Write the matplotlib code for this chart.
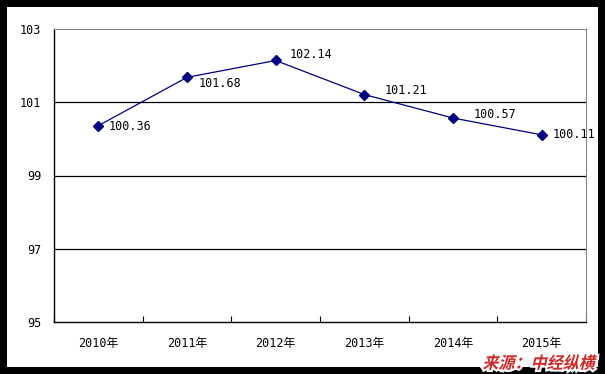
import matplotlib.pyplot as plt
from matplotlib.patches import Rectangle, PathPatch
from matplotlib.textpath import TextPath
from matplotlib.font_manager import FontProperties
from matplotlib.transforms import Affine2D, IdentityTransform
import numpy as np

plt.rcParams['font.family'] = ['DejaVu Sans Mono', 'Noto Sans CJK SC']

years = ['2010年', '2011年', '2012年', '2013年', '2014年', '2015年']
values = [100.36, 101.68, 102.14, 101.21, 100.57, 100.11]
# label offsets from the marker, in pixels
label_offsets = [(10, -1), (12, -6), (14, 6), (20, 4), (21, 3), (11, 0)]
source = '来源：中经纵横'

fig = plt.figure(figsize=(6.05, 3.74), dpi=100, facecolor='black')
fig.patches.append(Rectangle((7 / 605, 7 / 374), 591 / 605, 360 / 374,
                             transform=fig.transFigure, facecolor='white',
                             edgecolor='none', zorder=-5))

ax = fig.add_axes([54 / 605, 52 / 374, 532 / 605, 293 / 374])
ax.set_zorder(1)
x = np.arange(len(years))
ax.plot(x, values, color='#000080', lw=0.9, marker='D', ms=5.2)
for xi, v, off in zip(x, values, label_offsets):
    ax.annotate(f'{v:.2f}', (xi, v), xytext=off, textcoords='offset pixels',
                fontsize=8.5, va='center', ha='left', annotation_clip=False)

ax.set_xlim(-0.5, len(years) - 0.5)
ax.set_ylim(95, 103)
ax.set_yticks([95, 97, 99, 101, 103])
ax.set_xticks(x)
ax.set_xticklabels(years, fontsize=8.5)
ax.set_xticks(np.arange(-0.5, len(years)), minor=True)
ax.tick_params(axis='x', which='major', length=0, pad=11)
ax.tick_params(axis='x', which='minor', direction='in', length=4, width=0.8)
ax.tick_params(axis='y', length=0, pad=9, labelsize=8.5)

for yv in [97, 99, 101]:
    ax.axhline(yv, color='black', lw=0.9, zorder=0)
ax.spines['top'].set_color('#808080')
ax.spines['right'].set_color('#808080')
ax.spines['left'].set_linewidth(1.0)
ax.spines['bottom'].set_linewidth(1.0)

# source note: bold red, slanted, with a white outline
tp = TextPath((0, 0), source, size=16.5,
              prop=FontProperties(family='Noto Sans CJK SC', weight='bold'))
tp = tp.transformed(Affine2D().skew_deg(14, 0))
ext = tp.get_extents()
tp = tp.transformed(Affine2D().scale(114 / ext.width, 1))
ext = tp.get_extents()
tp = tp.transformed(Affine2D().translate(597 - ext.x1, 4 - ext.y0))
fig.patches.append(PathPatch(tp, transform=IdentityTransform(), facecolor='white',
                             edgecolor='white', lw=3, zorder=4))
fig.patches.append(PathPatch(tp, transform=IdentityTransform(), facecolor='#d02828',
                             edgecolor='none', zorder=5))

fig.savefig('out.png', dpi=100, facecolor='black')
